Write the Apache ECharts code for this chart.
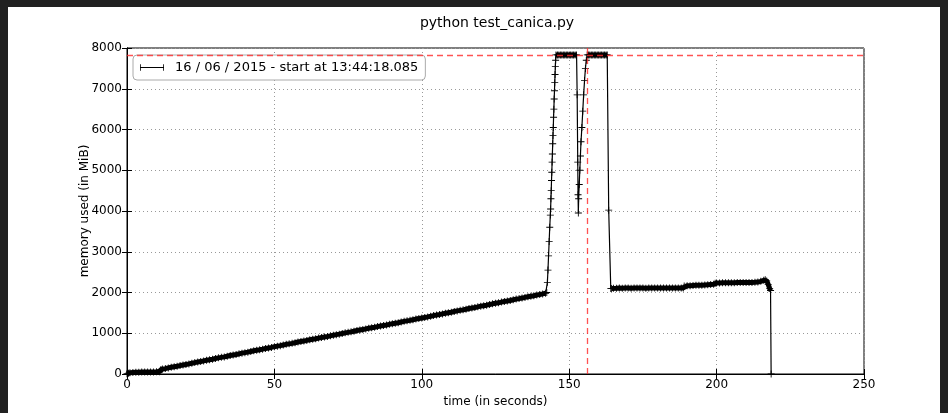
<!DOCTYPE html>
<html>
<head>
<meta charset="utf-8">
<script src="https://cdn.jsdelivr.net/npm/echarts@6/dist/echarts.min.js"></script>
<style>
html,body{margin:0;padding:0;background:#212121;width:948px;height:413px;overflow:hidden;}
#chart{position:absolute;left:8px;top:7px;width:932px;height:406px;background:#ffffff;}
</style>
</head>
<body>
<div id="chart"></div>
<script>
const titleText = "python test_canica.py";
const legendLabel = "16 / 06 / 2015 - start at 13:44:18.085";
const xTicks = [0, 50, 100, 150, 200, 250];
const yTicks = [0, 1000, 2000, 3000, 4000, 5000, 6000, 7000, 8000];
const maxMemory = 7830;
const maxTime = 156.1;

// early phase + slow growth phase (densely sampled in the original)
const timesA = [0, 0.5, 1, 2, 3, 4, 5, 6, 7, 8, 9, 10, 11, 11.5];
const memA   = [5, 20, 30, 38, 42, 45, 47, 48, 50, 50, 52, 53, 55, 110];
const timesB = [12,13,14,15,16,17,18,19,20,21,22,23,24,25,26,27,28,29,30,31,32,33,34,35,36,37,38,39,40,41,42,43,44,45,46,47,48,49,50,
51,52,53,54,55,56,57,58,59,60,61,62,63,64,65,66,67,68,69,70,71,72,73,74,75,76,77,78,79,80,81,82,83,84,85,86,87,88,89,90,91,92,93,94,95,96,97,98,99,100,
101,102,103,104,105,106,107,108,109,110,111,112,113,114,115,116,117,118,119,120,121,122,123,124,125,126,127,128,129,130,131,132,133,134,135,136,137,138,139,140,141,142];
const memB = [120,132,150,165,178,190,206,222,235,248,264,280,293,305,322,338,350,362,380,396,408,420,437,454,466,478,495,512,524,536,553,570,582,594,610,627,640,652,670,
684,696,712,728,740,752,768,784,796,808,825,841,853,865,881,897,909,921,937,953,966,978,994,1010,1022,1034,1050,1066,1078,1090,1107,1123,1135,1147,1163,1179,1191,1203,1219,1235,1247,1259,1276,1292,1304,1316,1332,1348,1360,1374,
1388,1401,1417,1434,1446,1459,1475,1491,1504,1516,1533,1549,1562,1574,1590,1607,1619,1632,1648,1665,1677,1689,1706,1722,1735,1747,1764,1780,1792,1805,1821,1838,1850,1863,1879,1895,1908,1920,1937,1953,1966,1980];
// first ramp to the ceiling
const timesC1 = [142.4,142.6,142.8,143.0,143.2,143.4,143.6,143.7,143.8,143.9,144.0,144.1,144.2,144.3,144.4,144.5,144.6,144.7,144.8,144.9,145.0,145.1,145.2,145.3,145.4];
const memC1 = [2000,2250,2550,2900,3250,3600,3900,4050,4300,4500,4750,4950,5200,5400,5650,5850,6050,6300,6500,6750,6950,7150,7350,7550,7700];
// first plateau
const timesP1 = [145.5,146,146.5,147,147.5,148,148.5,149,149.5,150,150.5,151,151.5,152,152.5];
const memP1 = [7830,7830,7830,7830,7830,7830,7830,7830,7830,7830,7830,7830,7830,7830,7830];
// dip and second ramp
const timesC2 = [152.7,152.9,153.0,153.1,153.2,153.4,153.6,153.8,154.0,154.3,154.6,154.9,155.2,155.5,155.8];
const memC2 = [6850,5200,4400,3950,4300,4650,5000,5350,5700,6050,6450,6850,7200,7500,7700];
// second plateau
const timesP2 = [156.1,156.5,157,157.5,158,158.5,159,159.5,160,160.5,161,161.5,162,162.5,162.9];
const memP2 = [7830,7830,7830,7830,7830,7830,7830,7830,7830,7830,7830,7830,7830,7830,7830];
// fall
const timesC3 = [163.4, 164.1];
const memC3 = [4020, 2100];
// late phase
const timesD = [164.4,165,166,167,168,169,170,171,172,173,174,175,176,177,178,179,180,181,182,183,184,185,186,187,188,188.7,
189,190,191,192,193,194,195,196,197,198,199,199.5,
200,201,202,203,204,205,206,207,208,209,210,211,212,213,214,215,216,216.5,217,217.5,218,218.3];
const memD = [2100,2105,2105,2110,2105,2108,2110,2105,2108,2110,2108,2110,2105,2108,2110,2108,2110,2108,2110,2112,2110,2108,2112,2110,2112,2112,
2160,2165,2165,2170,2175,2180,2180,2185,2190,2195,2200,2230,
2235,2235,2240,2240,2240,2242,2242,2245,2245,2245,2245,2248,2248,2250,2255,2275,2300,2315,2285,2200,2100,2050];
const timesE = [218.5];
const memE = [0];

const plus = 'path://M0,3.5h8v1h-8zM3.5,0h1v8h-1z';
const legendIcon = 'path://M0,4.5h30v1h-30zM0,1h1v8h-1zM29,1h1v8h-1z';
const font = 'DejaVu Sans';

const pairs = (ts, ms) => ts.map((t, i) => [t, ms[i]]);
const fullData = [].concat(
  pairs(timesA, memA), pairs(timesB, memB), pairs(timesC1, memC1), pairs(timesP1, memP1),
  pairs(timesC2, memC2), pairs(timesP2, memP2), pairs(timesC3, memC3), pairs(timesD, memD), pairs(timesE, memE)
);
const denseSegments = [
  pairs(timesA, memA).concat(pairs(timesB, memB)),
  pairs(timesP1, memP1),
  pairs(timesP2, memP2),
  pairs(timesD, memD)
];

const bandSeries = denseSegments.map(seg => ({
  name: legendLabel, type: 'line', data: seg, symbol: 'none',
  lineStyle: {color: '#000', width: 5}, itemStyle: {color: '#000'}, z: 2, silent: true
}));

const chart = echarts.init(document.getElementById('chart'), null, {renderer: 'canvas'});
chart.setOption({
  animation: false,
  backgroundColor: '#ffffff',
  title: {
    text: titleText,
    left: 484, top: 4, textAlign: 'center',
    textStyle: {fontFamily: font, fontSize: 14, fontWeight: 'normal', color: '#000'}
  },
  legend: {
    data: [{name: legendLabel, icon: legendIcon}],
    left: 125, top: 48,
    orient: 'vertical',
    itemWidth: 24, itemHeight: 9, itemGap: 0,
    padding: [6, 7, 6, 7],
    backgroundColor: '#ffffff',
    borderColor: '#aaaaaa', borderWidth: 1, borderRadius: 4,
    textStyle: {fontFamily: font, fontSize: 13, color: '#000', padding: [0, 0, 0, 6]}
  },
  grid: {left: 119, right: 76, top: 41, bottom: 39, show: true, borderColor: '#000', borderWidth: 1, backgroundColor: 'transparent'},
  xAxis: [{
    type: 'value', min: 0, max: 250, interval: 50,
    name: 'time (in seconds)', nameLocation: 'middle', nameGap: 22, nameMoveOverlap: false,
    nameTextStyle: {fontFamily: font, fontSize: 12, color: '#000'},
    axisLine: {show: true, lineStyle: {color: '#000', width: 1}},
    axisTick: {show: true, inside: true, length: 5, lineStyle: {color: '#000'}},
    axisLabel: {fontFamily: font, fontSize: 12, color: '#000', margin: 5,
      formatter: v => xTicks.indexOf(v) >= 0 ? String(v) : ''},
    splitLine: {show: true, lineStyle: {color: '#999', type: [1, 3], width: 1}}
  }, {
    type: 'value', min: 0, max: 250, interval: 50, position: 'top',
    axisLine: {show: true, lineStyle: {color: '#000'}},
    axisTick: {show: true, inside: true, length: 5, lineStyle: {color: '#000'}},
    axisLabel: {show: false}, splitLine: {show: false}
  }],
  yAxis: [{
    type: 'value', min: 0, max: 8000, interval: 1000,
    name: 'memory used (in MiB)', nameLocation: 'middle', nameGap: 36, nameMoveOverlap: false,
    nameTextStyle: {fontFamily: font, fontSize: 12, color: '#000'},
    axisLine: {show: true, lineStyle: {color: '#000'}},
    axisTick: {show: true, inside: true, length: 5, lineStyle: {color: '#000'}},
    axisLabel: {fontFamily: font, fontSize: 12, color: '#000', margin: 5,
      formatter: v => yTicks.indexOf(v) >= 0 ? String(v) : ''},
    splitLine: {show: true, lineStyle: {color: '#999', type: [1, 3], width: 1}}
  }, {
    type: 'value', min: 0, max: 8000, interval: 1000, position: 'right',
    axisLine: {show: true, lineStyle: {color: '#000'}},
    axisTick: {show: true, inside: true, length: 5, lineStyle: {color: '#000'}},
    axisLabel: {show: false}, splitLine: {show: false}
  }],
  series: [{
    name: legendLabel,
    type: 'line',
    data: fullData,
    showAllSymbol: true,
    symbol: plus, symbolSize: 7,
    itemStyle: {color: '#000', borderWidth: 0},
    lineStyle: {color: '#000', width: 1.2},
    z: 3,
    markLine: {
      silent: true, symbol: 'none',
      label: {show: false},
      lineStyle: {color: 'rgba(255,40,40,0.8)', type: [6, 4], width: 1.3},
      data: [{yAxis: maxMemory}, {xAxis: maxTime}]
    }
  }].concat(bandSeries)
});
</script>
</body>
</html>
